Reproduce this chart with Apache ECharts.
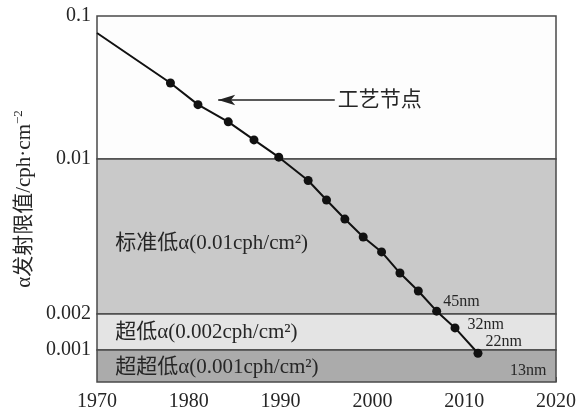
<!DOCTYPE html>
<html><head><meta charset="utf-8">
<script src="https://cdn.jsdelivr.net/npm/echarts@6/dist/echarts.min.js"></script>
<style>html,body{margin:0;padding:0;background:#fff}#c{width:581px;height:412px}</style>
</head><body><div id="c"></div>
<script>
// ---- data ----
const years = [1970, 1978, 1981, 1984.3, 1987.1, 1989.8, 1993, 1995, 1997, 1999, 2001, 2003, 2005, 2007, 2009, 2011.5];
const alphaLimit = [0.076, 0.034, 0.024, 0.0182, 0.0136, 0.0103, 0.0080, 0.00653, 0.00536, 0.00445, 0.00381, 0.00306, 0.00254, 0.00206, 0.00153, 0.00094];
const nodeYears = [2007, 2009, 2011.5];
const nodeNames = ['45nm', '32nm', '22nm'];
const extraNodeName = '13nm';
const xTicks = [1970, 1980, 1990, 2000, 2010, 2020];
const yTickValues = [0.001, 0.002, 0.01, 0.1];
const yTickLabels = ['0.001', '0.002', '0.01', '0.1'];
const bandUpper = [0.01, 0.002, 0.001];
const bandLower = [0.002, 0.001, null];
const bandNames = ['标准低α(0.01cph/cm²)', '超低α(0.002cph/cm²)', '超超低α(0.001cph/cm²)'];
const annotationText = '工艺节点';
const yAxisTitle = 'α发射限值/cph·cm';
const yAxisTitleSup = '−2';

// ---- schematic (piecewise log) y scale: knot positions on the axis ----
const knotPos = [32, 68, 223, 366];
const axisMinPos = 0, axisMaxPos = 366;
function yPos(v) {
  const lv = Math.log10(v);
  const lk = yTickValues.map(Math.log10);
  let i = 0;
  if (lv >= lk[lk.length - 1]) i = lk.length - 2;
  else { while (i < lk.length - 2 && lv > lk[i + 1]) i++; }
  const t = (lv - lk[i]) / (lk[i + 1] - lk[i]);
  return knotPos[i] + t * (knotPos[i + 1] - knotPos[i]);
}

const SERIF = "'Liberation Serif','Times New Roman','DejaVu Serif','Noto Sans CJK SC',serif";
const TXT = '#262626';

const lineData = years.map((y, i) => {
  const item = { value: [y, yPos(alphaLimit[i])] };
  if (i === 0) item.symbol = 'none';
  const k = nodeYears.indexOf(y);
  if (k >= 0) {
    const cfg = [
      { distance: 2, offset: [0, -9] },
      { distance: 8, offset: [0, -3] },
      { distance: 3, offset: [0, -11] }
    ][k];
    item.label = { show: true, position: 'right', formatter: nodeNames[k], fontFamily: SERIF, fontSize: 16, color: TXT, distance: cfg.distance, offset: cfg.offset };
  }
  return item;
});

const bandColors = ['#c9c9c9', '#e4e4e4', '#ababab'];
const bandLabelOffsets = [[0, 7], [0, 0], [0, 1]];
const areas = [
  [{ yAxis: yPos(0.01), itemStyle: { color: '#fdfdfd' }, label: { show: false } }, { yAxis: axisMaxPos }]
];
bandNames.forEach((n, i) => {
  areas.push([
    { yAxis: bandLower[i] === null ? axisMinPos : yPos(bandLower[i]), itemStyle: { color: bandColors[i] },
      label: { show: true, position: 'insideLeft', distance: 19, offset: bandLabelOffsets[i],
        formatter: n, fontFamily: SERIF, fontSize: 21, color: TXT } },
    { yAxis: yPos(bandUpper[i]) }
  ]);
});

const chart = echarts.init(document.getElementById('c'), null, { renderer: 'canvas' });
chart.setOption({
  animation: false,
  backgroundColor: '#ffffff',
  grid: { left: 97, right: 25, top: 16, bottom: 30 },
  xAxis: {
    type: 'value', min: 1970, max: 2020, interval: 10,
    axisLine: { show: false },
    axisTick: { show: true, inside: true, length: 5, lineStyle: { color: '#555', width: 1 } },
    splitLine: { show: false },
    axisLabel: { fontFamily: SERIF, fontSize: 20, color: TXT, margin: 10, formatter: v => xTicks.includes(v) ? String(v) : '' }
  },
  yAxis: {
    type: 'value', min: axisMinPos, max: axisMaxPos,
    axisLine: { show: false }, axisTick: { show: false }, splitLine: { show: false },
    axisLabel: {
      customValues: yTickValues.map(yPos),
      fontFamily: SERIF, fontSize: 20, color: TXT, margin: 6,
      formatter: v => { const i = yTickValues.findIndex(t => Math.abs(yPos(t) - v) < 0.01); return i >= 0 ? yTickLabels[i] : ''; }
    },
    name: '{a|' + yAxisTitle + '}{s|' + yAxisTitleSup + '}',
    nameLocation: 'middle', nameRotate: 90, nameGap: 60,
    nameTextStyle: { rich: {
      a: { fontFamily: SERIF, fontSize: 21, color: TXT, lineHeight: 24, verticalAlign: 'bottom' },
      s: { fontFamily: SERIF, fontSize: 13, color: TXT, verticalAlign: 'bottom', lineHeight: 13, padding: [0, 0, 10, 0] }
    } }
  },
  series: [{
    type: 'line',
    data: lineData,
    symbol: 'circle', symbolSize: 9,
    lineStyle: { color: '#111', width: 2 },
    itemStyle: { color: '#111' },
    z: 5,
    markArea: {
      silent: true,
      itemStyle: { borderColor: '#4a4a4a', borderWidth: 1.5, opacity: 1 },
      data: areas
    },
    markLine: {
      silent: true,
      symbol: ['arrow', 'none'], symbolSize: [8, 17],
      lineStyle: { color: '#222', width: 1.5, type: 'solid' },
      label: { show: true, position: 'end', distance: 3, formatter: annotationText, fontFamily: SERIF, fontSize: 21, color: TXT },
      data: [[{ coord: [1983.2, 282] }, { coord: [1995.9, 282] }]]
    }
  }],
  graphic: [{
    type: 'text', left: 510, top: 363, z: 10,
    style: { text: extraNodeName, font: '16px ' + SERIF, fill: TXT }
  }]
});
</script></body></html>
